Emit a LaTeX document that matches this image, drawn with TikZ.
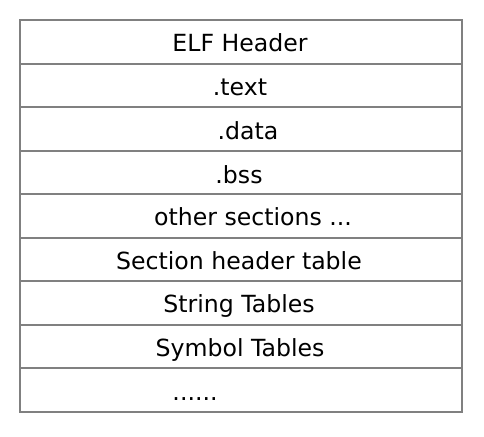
\documentclass[tikz,border=0pt]{standalone}
\usepackage{fontspec}
\setmainfont{DejaVu Sans}
\begin{document}
\begin{tikzpicture}[x=1pt,y=-1pt,
  rule/.style={draw=black!50,line width=2pt},
  cell/.style={anchor=base,inner sep=0pt,font=\fontsize{23.6}{28}\selectfont}]
\useasboundingbox (0,0) rectangle (484,436);
% table outline
\draw[rule] (19.5,20) rectangle (461.5,412);
% row separators
\foreach \i in {1,...,8}
  \draw[rule] (19.5,{20+43.56*\i}) -- (461.5,{20+43.56*\i});
% row labels
\node[cell] (elf)  at (240,52)  {ELF Header};
\node[cell] (text) at (240,95)  {.text};
\node[cell] (data) at (248,139) {.data};
\node[cell] (bss)  at (239,183) {.bss};
\node[cell] (oth)  at (253,225) {other sections ...};
\node[cell] (sht)  at (239,269) {Section header table};
\node[cell] (str)  at (239,312) {String Tables};
\node[cell] (sym)  at (240,356) {Symbol Tables};
\node[cell] (more) at (195,400) {......};
\end{tikzpicture}
\end{document}
